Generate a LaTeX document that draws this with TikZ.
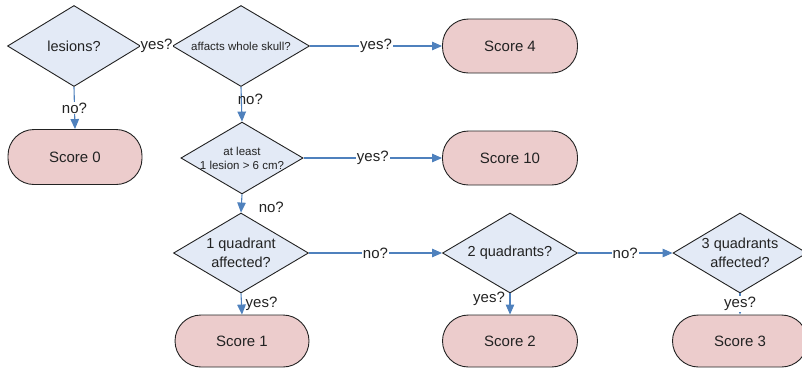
\documentclass[tikz,border=0pt]{standalone}
\usepackage{fontspec}
\setmainfont{Liberation Sans}
\usetikzlibrary{shapes.geometric,arrows.meta}
\definecolor{qfill}{RGB}{227,234,246}
\definecolor{sfill}{RGB}{236,204,204}
\definecolor{flow}{RGB}{79,129,189}
\definecolor{ink}{RGB}{34,34,34}
\tikzset{
  question/.style={diamond, aspect=1.7, draw=ink, line width=0.9pt, fill=qfill, inner sep=0pt,
    text=ink, align=center, font=\fontsize{14.5}{18.5}\selectfont},
  smallq/.style={question, font=\fontsize{11.5}{14}\selectfont},
  outcome/.style={rectangle, rounded corners=26pt, draw=ink, line width=0.9pt,
    fill=sfill, text=ink, minimum width=134pt, font=\fontsize{15}{18}\selectfont},
  flowline/.style={draw=flow, line width=1.1pt, -{Triangle[length=10pt,width=8.5pt]}},
  lbl/.style={fill=white, inner sep=1pt, text=ink, font=\fontsize{15}{18}\selectfont},
  plainlbl/.style={inner sep=0pt, text=ink, font=\fontsize{15}{18}\selectfont},
}
\begin{document}
\begin{tikzpicture}[x=1pt,y=-1pt]
\useasboundingbox (0,0) rectangle (802,368);

% decision nodes
\node[question, minimum width=133pt, minimum height=81pt] (les) at (74,46) {lesions?};
\node[smallq, minimum width=137pt, minimum height=81pt] (skull) at (241,46) {affacts whole skull?};
\node[smallq, minimum width=119pt, minimum height=70pt] (big) at (242,158) {at least\\1 lesion > 6 cm?};
\node[question, minimum width=135pt, minimum height=80pt] (q1) at (241,253) {1 quadrant\\affected?};
\node[question, minimum width=135pt, minimum height=80pt] (q2) at (510,253) {2 quadrants?};
\node[question, minimum width=134pt, minimum height=80pt] (q3) at (740,253) {3 quadrants\\affected?};

% outcome nodes
\node[outcome, minimum height=55pt] (s0) at (75,157) {Score 0};
\node[outcome, minimum width=135pt, minimum height=54pt] (s4) at (510,46) {Score 4};
\node[outcome, minimum width=135pt, minimum height=54pt] (s10) at (510,158) {Score 10};
\node[outcome, minimum height=52pt] (s1) at (242,341) {Score 1};
\node[outcome, minimum width=135pt, minimum height=52pt] (s2) at (510,341) {Score 2};
\node[outcome, minimum width=135pt, minimum height=52pt] (s3) at (740,341) {Score 3};

% connectors
\draw[flowline] (les.south) -- node[lbl] {no?} (s0.north);
\draw[flowline] (les.east) -- node[lbl] {yes?} (skull.west);
\draw[flowline] (skull.east) -- node[lbl] {yes?} (s4.west);
\draw[flowline] (skull.south) -- node[plainlbl, pos=0.36, xshift=9pt] {no?} (big.north);
\draw[flowline] (big.east) -- node[lbl] {yes?} (s10.west);
\draw[flowline] (big.south) -- node[plainlbl, pos=0.7, xshift=30pt] {no?} (q1.north);
\draw[flowline] (q1.south) -- node[plainlbl, pos=0.5, xshift=20pt] {yes?} (s1.north);
\draw[flowline] (q1.east) -- node[lbl] {no?} (q2.west);
\draw[flowline] (q2.south) -- node[plainlbl, pos=0.25, xshift=-21pt] {yes?} (s2.north);
\draw[flowline] (q2.east) -- node[lbl] {no?} (q3.west);
\draw[flowline] (q3.south) -- node[lbl, pos=0.5] {yes?} (s3.north);
\end{tikzpicture}
\end{document}
